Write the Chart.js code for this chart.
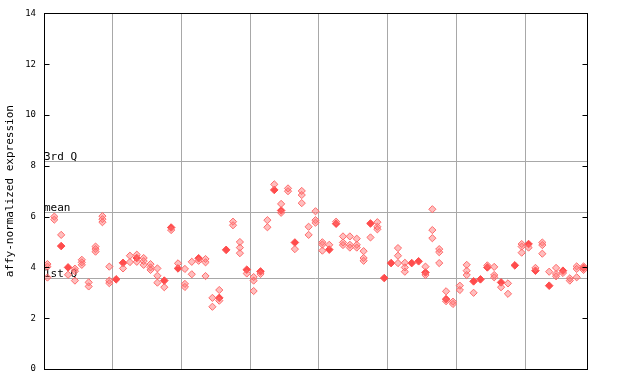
<!DOCTYPE html>
<html>
<head>
<meta charset="utf-8">
<script src="https://cdn.jsdelivr.net/npm/chart.js@4/dist/chart.umd.min.js"></script>
<style>
  html, body { margin: 0; padding: 0; background: #fff; }
  #wrap { width: 640px; height: 384px; }
</style>
</head>
<body>
<div id="wrap"><canvas id="c" width="640" height="384"></canvas></div>
<script>
// ---- data ----
const yTickValues = [0, 2, 4, 6, 8, 10, 12, 14];
const groupBoundaries = [10.5, 20.5, 30.5, 40.5, 50.5, 60.5, 70.5];
const quartileLabels = ['3rd Q', 'mean', '1st Q'];
const quartileValues = [8.17, 6.17, 3.58];

// one entry per sample column (1..79); null = no filled marker
const filledValues = [
  null, null, 4.84, 4.0, null, null, null, null, null, null,
  3.53, 4.18, null, 4.37, null, null, null, 3.48, 5.57, 3.96,
  null, null, 4.36, null, null, 2.8, 4.69, null, null, 3.91,
  null, 3.84, null, 7.05, 6.24, null, 4.98, null, null, null,
  null, 4.7, 5.72, null, null, null, null, 5.73, null, 3.58,
  4.17, null, null, 4.17, 4.24, 3.8, null, null, 2.75, null,
  null, null, 3.45, 3.53, 4.0, null, 3.41, null, 4.08, null,
  4.92, 3.87, null, 3.28, null, 3.87, null, null, 3.98
];
const hollowValues = [
  [4.13, 4.03, 3.6], [6.0, 5.88], [5.28], [3.71], [3.95, 3.85, 3.48],
  [4.3, 4.2, 4.1], [3.41, 3.25], [4.82, 4.72, 4.62], [6.02, 5.9, 5.78], [4.03, 3.48, 3.38],
  [], [3.96], [4.46, 4.21], [4.5, 4.22], [4.37, 4.25, 4.1],
  [4.13, 4.0, 3.9], [3.96, 3.67, 3.4], [3.22], [5.47], [4.16],
  [3.94, 3.35, 3.23], [4.22, 3.73], [4.26], [4.33, 4.2, 3.66], [2.8, 2.45],
  [3.11, 2.69], [], [5.8, 5.66], [5.0, 4.78, 4.56], [3.76],
  [3.62, 3.48, 3.07], [3.74], [5.86, 5.58], [7.27], [6.5, 6.15],
  [7.11, 7.0], [4.72], [7.01, 6.85, 6.53], [5.6, 5.28], [6.21, 5.86, 5.76],
  [4.99, 4.9, 4.66], [4.89], [5.8], [5.22, 4.98, 4.88], [5.22, 4.89, 4.78],
  [5.13, 4.89, 4.78], [4.64, 4.37, 4.26], [5.18], [5.78, 5.6, 5.5], [],
  [], [4.76, 4.46, 4.17], [4.18, 4.0, 3.83], [], [],
  [4.03, 3.7], [6.29, 5.47, 5.15], [4.72, 4.6, 4.17], [3.06, 2.67], [2.65, 2.56],
  [3.28, 3.11], [4.1, 3.87, 3.7], [3.0], [], [4.08],
  [4.02, 3.7, 3.61], [3.22], [3.37, 2.96], [], [4.92, 4.82, 4.58],
  [4.78], [3.98], [4.98, 4.88, 4.54], [3.83], [3.98, 3.74, 3.65],
  [3.78], [3.57, 3.48], [4.04, 3.94, 3.61], [4.04, 3.9]
];

// ---- build point lists ----
const hollowPoints = [];
hollowValues.forEach((vals, i) => vals.forEach(v => hollowPoints.push({ x: i + 1, y: v })));
const filledPoints = [];
filledValues.forEach((v, i) => { if (v !== null) filledPoints.push({ x: i + 1, y: v }); });

const MONO = '"DejaVu Sans Mono", "Liberation Mono", monospace';
const GRID = '#a8a8a8';

const decorPlugin = {
  id: 'decor',
  beforeDatasetsDraw(chart) {
    const { ctx, chartArea: a, scales: { y } } = chart;
    ctx.save();
    ctx.strokeStyle = GRID;
    ctx.lineWidth = 1;
    ctx.font = '11px ' + MONO;
    ctx.fillStyle = '#000';
    ctx.textAlign = 'left';
    ctx.textBaseline = 'alphabetic';
    quartileValues.forEach((v, i) => {
      const py = Math.round(y.getPixelForValue(v)) + 0.5;
      ctx.beginPath();
      ctx.moveTo(a.left, py);
      ctx.lineTo(a.right, py);
      ctx.stroke();
      ctx.fillText(quartileLabels[i], a.left, py - 1.5);
    });
    ctx.restore();
  },
  afterDraw(chart) {
    const { ctx, chartArea: a, scales: { y } } = chart;
    ctx.save();
    ctx.strokeStyle = '#000';
    ctx.lineWidth = 1;
    const l = Math.round(a.left) + 0.5, r = Math.round(a.right) + 0.5;
    const t = Math.round(a.top) + 0.5, b = Math.round(a.bottom) + 0.5;
    ctx.strokeRect(l, t, r - l, b - t);
    yTickValues.forEach(v => {
      const py = Math.round(y.getPixelForValue(v)) + 0.5;
      ctx.beginPath();
      ctx.moveTo(l, py); ctx.lineTo(l + 5, py);
      ctx.moveTo(r - 5, py); ctx.lineTo(r, py);
      ctx.stroke();
    });
    ctx.restore();
  }
};

new Chart(document.getElementById('c'), {
  type: 'scatter',
  data: {
    datasets: [
      {
        label: 'replicates',
        data: hollowPoints,
        pointStyle: 'rectRot',
        pointRadius: 3.6,
        borderWidth: 1,
        borderColor: '#ff6a6a',
        backgroundColor: 'rgba(255,110,110,0.45)'
      },
      {
        label: 'sample',
        data: filledPoints,
        pointStyle: 'rectRot',
        pointRadius: 3.8,
        borderWidth: 1,
        borderColor: '#ff4c4c',
        backgroundColor: '#ff4c4c'
      }
    ]
  },
  options: {
    responsive: false,
    animation: false,
    events: [],
    layout: { padding: { left: 0, right: 53, top: 12, bottom: 15 } },
    plugins: { legend: { display: false }, tooltip: { enabled: false } },
    scales: {
      x: {
        type: 'linear',
        min: 0.5,
        max: 79.5,
        afterBuildTicks(scale) { scale.ticks = groupBoundaries.map(v => ({ value: v })); },
        afterFit(scale) { scale.height = 0; },
        ticks: { display: false },
        grid: { color: GRID, lineWidth: 1, drawTicks: false },
        border: { display: false }
      },
      y: {
        min: 0,
        max: 14,
        afterBuildTicks(scale) { scale.ticks = yTickValues.map(v => ({ value: v })); },
        afterFit(scale) { scale.width = 44; },
        ticks: { color: '#000', font: { family: MONO, size: 9 }, padding: 8 },
        grid: { display: false, drawTicks: false },
        border: { display: false },
        title: {
          display: true,
          text: 'affy-normalized expression',
          color: '#000',
          font: { family: MONO, size: 11 },
          padding: { top: 4, bottom: 0 }
        }
      }
    }
  },
  plugins: [decorPlugin]
});
</script>
</body>
</html>
